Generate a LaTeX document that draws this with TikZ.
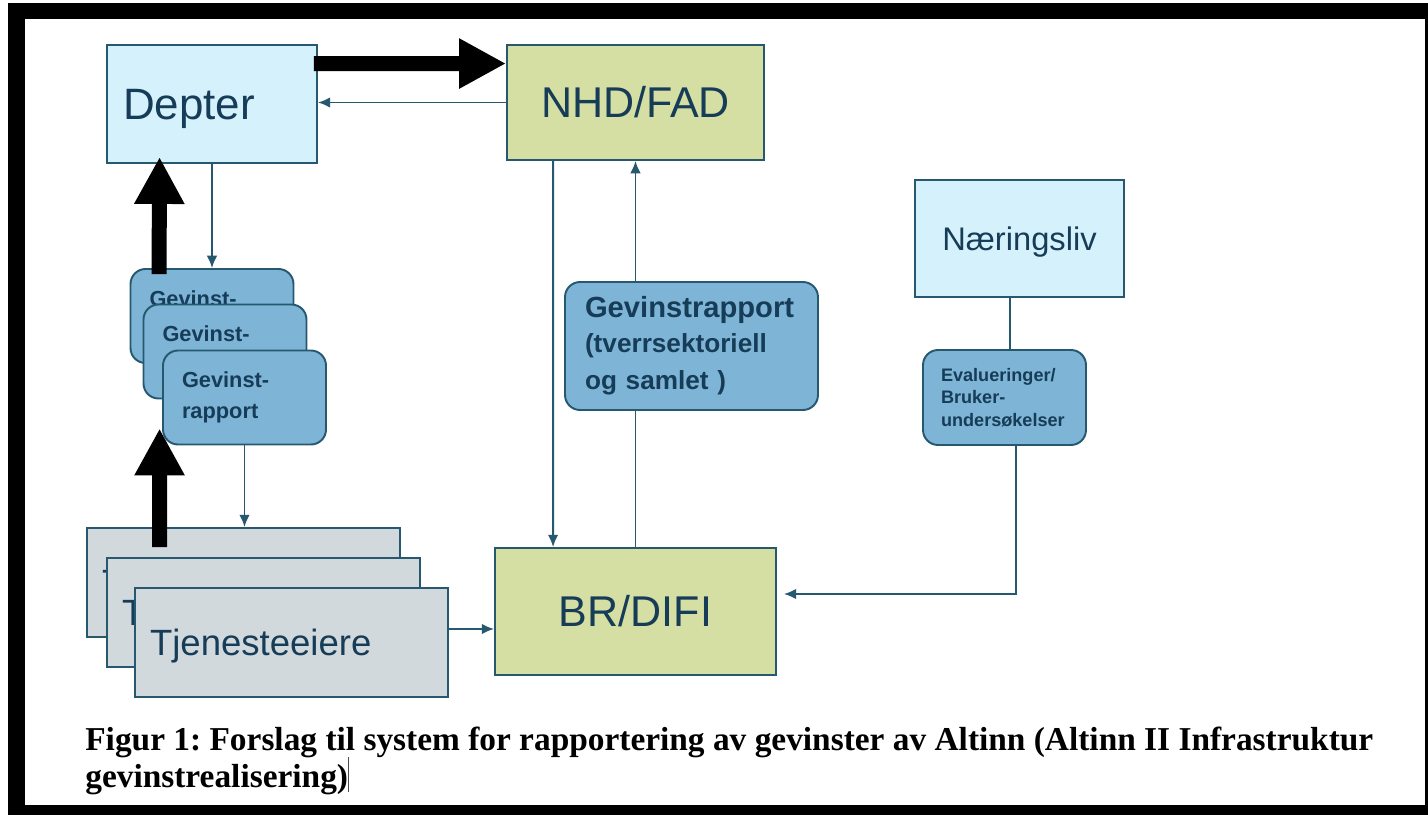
\documentclass[tikz,border=0pt]{standalone}
\usepackage{fontspec}
\setmainfont{Liberation Sans}
\newfontfamily\capfont{Liberation Serif}
\usetikzlibrary{arrows.meta}
\frenchspacing

\definecolor{kant}{RGB}{38,88,112}
\definecolor{skrift}{RGB}{22,60,88}
\definecolor{lysbla}{RGB}{213,242,252}
\definecolor{gronn}{RGB}{213,223,163}
\definecolor{kortbla}{RGB}{126,180,213}
\definecolor{gra}{RGB}{210,217,221}

\tikzset{
    boks/.style={draw=kant, line width=1.1pt, text=skrift, inner ysep=0pt, align=left},
    kort/.style={boks, fill=kortbla, rounded corners=0.3cm},
    link/.style={draw=kant, line width=1.1pt, -{Latex[length=7pt,width=6pt]}},
    strek/.style={draw=kant, line width=1.1pt},
    bigarrow/.style={line width=0.3cm, -{Triangle[width=0.94cm,length=0.94cm]}}
}

\begin{document}
\begin{tikzpicture}[x=0.02cm, y=-0.02cm]
        \useasboundingbox (0,0) rectangle (1428,815);

        % ~~~~ Ramme ~~~~ %
        \fill[black] (8,3) rectangle (1428,815);
        \fill[white] (25,19) rectangle (1425,805);

        % ~~~~ Tjenesteeiere ~~~~ %
        \foreach \n/\x/\y in {t1/243.5/582.5, t2/263.5/612.5, t3/291.5/642.5}
            \node[boks, fill=gra, minimum height=2.18cm, inner xsep=0.3cm, text width=5.66cm, text depth=0pt,
                font=\fontsize{20.8}{24}\selectfont] (\n) at (\x,\y) {Tjenesteeiere};

        % ~~~~ Gevinstrapporter ~~~~ %
        \foreach \n/\x/\y in {g1/212/316, g2/225/351.5, g3/244.5/397.5}
            \node[kort, minimum height=1.88cm, inner xsep=0.38cm, text width=2.5cm,
                font=\fontsize{12.4}{17.6}\selectfont\bfseries] (\n) at (\x,\y) {Gevinst-\\rapport};

        % ~~~~ Aktører ~~~~ %
        \node[boks, fill=lysbla, minimum height=2.36cm, inner xsep=0.32cm, text width=3.56cm, text depth=0pt,
            font=\fontsize{25}{30}\selectfont] (depter) at (212,104) {Depter};
        \node[boks, fill=gronn, minimum height=2.3cm, inner xsep=0pt, text width=5.14cm, align=center,
            font=\fontsize{24.5}{30}\selectfont] (nhd) at (635.5,102.5) {NHD/FAD};
        \node[boks, fill=gronn, minimum height=2.54cm, inner xsep=0pt, text width=5.62cm, align=center,
            font=\fontsize{24.5}{30}\selectfont] (br) at (635.5,611.5) {BR/DIFI};
        \node[boks, fill=lysbla, minimum height=2.34cm, inner xsep=0pt, text width=4.18cm, align=center, text depth=0pt,
            font=\fontsize{18.6}{22}\selectfont] (naering) at (1019.5,238.5) {Næringsliv};

        \node[kort, minimum height=2.56cm, inner xsep=0.4cm, text width=4.26cm,
            font=\fontsize{14.9}{19.6}\selectfont\bfseries] (grapport) at (691.5,346)
            {{\fontsize{16.6}{19.6}\selectfont Gevinstrapport}\\(tverrsektoriell\\[2pt]og samlet )};
        \node[kort, minimum height=1.9cm, inner xsep=0.36cm, text width=2.54cm,
            font=\fontsize{10.3}{12.8}\selectfont\bfseries] (eval) at (1004.5,397.5)
            {Evalueringer/\\Bruker-\\undersøkelser};

        % ~~~~ Rapportering ~~~~ %
        \draw[link] (nhd.west) -- (nhd.west -| depter.east);
        \draw[link] (depter.south) -- (g1.north);
        \draw[link] (g3.south) -- (g3.south |- t1.north);
        \draw[link] ([shift={(0,-13.5)}]t3.east) -- ([shift={(0,17.5)}]br.west);
        \draw[link] ([shift={(47,0)}]nhd.south west) -- ([shift={(59,0)}]br.north west);
        \draw[strek] (br.north) -- (br.north |- grapport.south);
        \draw[link] (nhd.south |- grapport.north) -- (nhd.south);
        \draw[strek] ([shift={(-9.5,0)}]naering.south) -- ([shift={(5.5,0)}]eval.north);
        \draw[link] ([shift={(11.5,0)}]eval.south) |- ([shift={(7,-17.5)}]br.east);

        % ~~~~ Hovedflyt ~~~~ %
        \draw[bigarrow] ([shift={(-4,19.5)}]depter.north east) -- ([shift={(0,19.5)}]nhd.north west);
        \draw[bigarrow] ([shift={(29.5,6)}]g1.north west) -- ([shift={(53.5,-7)}]depter.south west);
        \draw[bigarrow] ([shift={(73.5,20)}]t1.north west) -- ([shift={(-2.5,-17)}]g3.south west);

        % ~~~~ Figurtekst ~~~~ %
        \node[anchor=base west, inner sep=0pt, font=\capfont\bfseries\fontsize{19}{21}\selectfont] (fig1) at (85,750)
            {Figur 1: Forslag til system for rapportering av gevinster av Altinn (Altinn II Infrastruktur};
        \node[anchor=base west, inner sep=0pt, font=\capfont\bfseries\fontsize{19}{21}\selectfont] (fig2) at (85,787)
            {gevinstrealisering)\textcolor{black!70}{\rule[-3pt]{0.7pt}{20pt}}};
    \end{tikzpicture}
\end{document}
